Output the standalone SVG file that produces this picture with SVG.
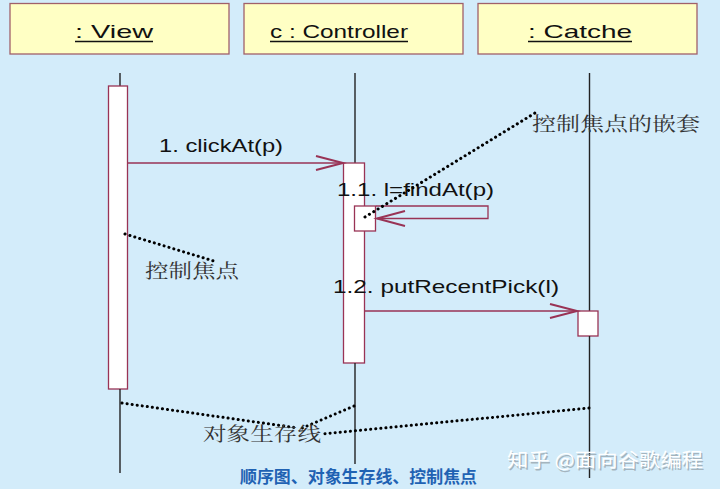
<svg xmlns="http://www.w3.org/2000/svg" width="720" height="489" viewBox="0 0 720 489">
<defs>
<style>
.hdr{fill:#ffffc4;stroke:#a0606a;stroke-width:1.3}
.ht{font-family:"Liberation Sans",Arial,sans-serif;font-size:19px;fill:#111}
.ul{stroke:#111;stroke-width:1.3}
.life{stroke:#222;stroke-width:1.4;fill:none}
.act{fill:#ffffff;stroke:#993355;stroke-width:1.3}
.msg{stroke:#993355;stroke-width:1.3;fill:none}
.head{stroke:#993355;stroke-width:2;fill:none}
.lbl{font-family:"Liberation Sans",Arial,sans-serif;font-size:19px;fill:#111}
.note{stroke:#000;stroke-width:3;stroke-dasharray:0.1 5;stroke-linecap:round;fill:none}
.cjk{font-family:"Noto Serif CJK SC","Noto Sans CJK SC",serif;font-size:19px;fill:#333}
.wm{font-family:"Noto Sans CJK SC",sans-serif;font-size:19px}
</style>
</defs>
<rect x="0" y="0" width="720" height="489" fill="#d3ecfa"/>

<g id="view">
<rect class="hdr" x="10" y="3.5" width="219" height="50.5"/>
<text class="ht" x="75" y="38" textLength="78" lengthAdjust="spacingAndGlyphs"> : View</text>
<line class="ul" x1="75" y1="41.5" x2="153" y2="41.5"/>
<line class="life" x1="120" y1="73" x2="120" y2="86"/>
<rect class="act" x="108.5" y="86" width="19" height="303"/>
<line class="life" x1="120" y1="389" x2="120" y2="473"/>
</g>

<g id="controller">
<rect class="hdr" x="244" y="3.5" width="219" height="50.5"/>
<text class="ht" x="270" y="38" textLength="138" lengthAdjust="spacingAndGlyphs">c : Controller</text>
<line class="ul" x1="270" y1="41.5" x2="408" y2="41.5"/>
<line class="life" x1="355" y1="73" x2="355" y2="163"/>
<rect class="act" x="343.5" y="163" width="21" height="200"/>
<rect class="act" x="354.5" y="206" width="21" height="25"/>
<line class="life" x1="355" y1="363" x2="355" y2="464"/>
</g>

<g id="catche">
<rect class="hdr" x="478" y="3.5" width="219" height="50.5"/>
<text class="ht" x="528" y="38" textLength="104" lengthAdjust="spacingAndGlyphs"> : Catche</text>
<line class="ul" x1="528" y1="41.5" x2="632" y2="41.5"/>
<line class="life" x1="589.5" y1="73" x2="589.5" y2="311"/>
<rect class="act" x="578" y="311" width="20" height="25"/>
<line class="life" x1="589.5" y1="336" x2="589.5" y2="478"/>
</g>

<g id="connectors">
<line class="msg" x1="128" y1="163" x2="343" y2="163"/>
<polyline class="head" points="316,156 343,163 316,170"/>
<text class="lbl" x="159" y="152" textLength="124" lengthAdjust="spacingAndGlyphs">1. clickAt(p)</text>

<polyline class="msg" points="376,206 488,206 488,218.5 377,218.5"/>
<polyline class="head" points="405,211 377,218.5 405,226"/>
<text class="lbl" x="337" y="196" textLength="157" lengthAdjust="spacingAndGlyphs">1.1. l=findAt(p)</text>

<line class="msg" x1="365" y1="311" x2="577" y2="311"/>
<polyline class="head" points="550,304 577,311 550,318"/>
<text class="lbl" x="333" y="293" textLength="226" lengthAdjust="spacingAndGlyphs">1.2. putRecentPick(l)</text>
</g>

<g id="notes">
<line class="note" x1="365" y1="217" x2="535" y2="113"/>
<text class="cjk" x="532" y="131" textLength="168" lengthAdjust="spacingAndGlyphs">控制焦点的嵌套</text>
<line class="note" x1="125" y1="234" x2="217" y2="262"/>
<text class="cjk" x="145" y="278" textLength="94" lengthAdjust="spacingAndGlyphs">控制焦点</text>
<line class="note" x1="122" y1="403" x2="298" y2="428"/>
<line class="note" x1="354" y1="406" x2="300" y2="429"/>
<line class="note" x1="589" y1="408" x2="322" y2="434"/>
<text class="cjk" x="203" y="441" textLength="118" lengthAdjust="spacingAndGlyphs">对象生存线</text>
</g>

<text x="240" y="483" font-family="'Noto Sans CJK SC',sans-serif" font-size="16.5" font-weight="bold" fill="#1f62b3" textLength="237" lengthAdjust="spacingAndGlyphs">顺序图、对象生存线、控制焦点</text>
<g id="watermark">
<text class="wm" x="508.5" y="468.5" fill="#8f9ba3" fill-opacity="0.7" textLength="196" lengthAdjust="spacingAndGlyphs">知乎 @面向谷歌编程</text>
<text class="wm" x="507" y="467" fill="#ffffff" textLength="196" lengthAdjust="spacingAndGlyphs">知乎 @面向谷歌编程</text>
</g>
</svg>
